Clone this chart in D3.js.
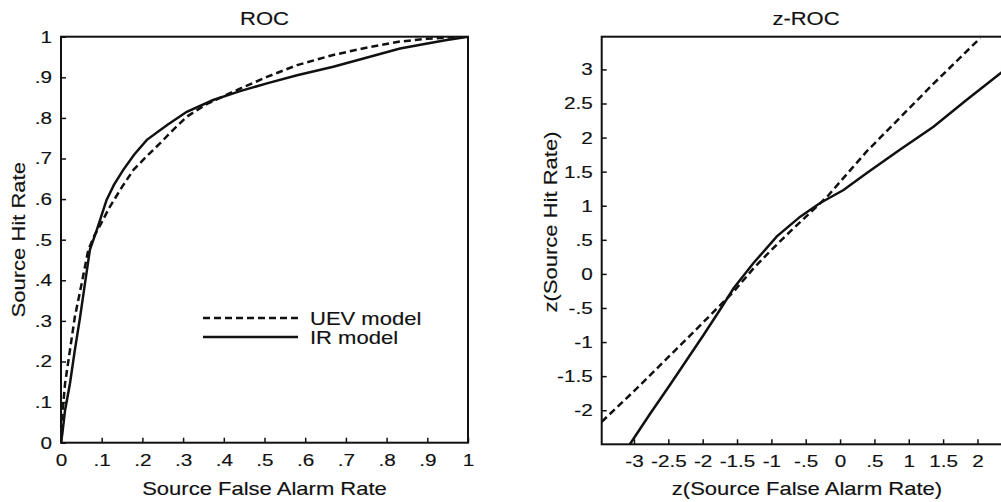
<!DOCTYPE html>
<html>
<head>
<meta charset="utf-8">
<script src="https://cdn.jsdelivr.net/npm/d3@7"></script>
<style>
  body { margin: 0; background: #fff; }
  svg text { font-family: "Liberation Sans", Arial, sans-serif; fill: #111; stroke: #111; stroke-width: 0.15px; }
</style>
</head>
<body>
<svg id="chart" width="1001" height="502"></svg>
<script>
// ROC panel, UEV model (dashed)
const uevFA  = [0, 0.002, 0.005, 0.01, 0.022, 0.034, 0.051, 0.067, 0.082, 0.096, 0.12, 0.15, 0.178, 0.21, 0.243, 0.275, 0.309, 0.36, 0.424, 0.506, 0.58, 0.669, 0.75, 0.833, 0.9, 0.95, 1]
const uevHit = [0, 0.05, 0.09, 0.146, 0.228, 0.31, 0.393, 0.475, 0.51, 0.535, 0.581, 0.63, 0.672, 0.705, 0.737, 0.77, 0.803, 0.835, 0.865, 0.901, 0.93, 0.955, 0.973, 0.988, 0.995, 0.998, 1]
// ROC panel, IR model (solid)
const irFA  = [0, 0.003, 0.01, 0.022, 0.034, 0.047, 0.059, 0.071, 0.088, 0.112, 0.13, 0.153, 0.18, 0.211, 0.26, 0.309, 0.374, 0.44, 0.506, 0.58, 0.669, 0.75, 0.833, 0.9, 0.948, 0.98, 1]
const irHit = [0, 0.02, 0.08, 0.146, 0.228, 0.31, 0.393, 0.475, 0.524, 0.598, 0.635, 0.672, 0.71, 0.746, 0.782, 0.815, 0.844, 0.866, 0.885, 0.905, 0.926, 0.948, 0.971, 0.983, 0.992, 0.997, 1]

// z-ROC panel
const uevZFA  = [-3.47, -3.0, -2.52, -2.04, -1.55, -1.26, -1.07, -0.78, -0.19, 0.39, 0.87, 1.36, 2.04]
const uevZHit = [-2.17, -1.72, -1.24, -0.76, -0.26, 0.08, 0.28, 0.57, 1.13, 1.8, 2.29, 2.79, 3.46]
const irZFA  = [-3.06, -2.77, -2.47, -2.23, -1.99, -1.75, -1.55, -1.26, -0.92, -0.58, -0.29, 0.05, 0.39, 0.87, 1.36, 1.84, 2.33, 2.5]
const irZHit = [-2.5, -2.06, -1.62, -1.26, -0.9, -0.53, -0.21, 0.16, 0.55, 0.84, 1.04, 1.23, 1.48, 1.82, 2.16, 2.55, 2.94, 3.06]

const rocTicks = [0, .1, .2, .3, .4, .5, .6, .7, .8, .9, 1]
const zXTicks = [-3, -2.5, -2, -1.5, -1, -.5, 0, .5, 1, 1.5, 2]
const zYTicks = [-2, -1.5, -1, -.5, 0, .5, 1, 1.5, 2, 2.5, 3]

const legendNames = ['UEV model', 'IR model']

const svg = d3.select('#chart')
const SX = 1.19   // glyphs in the figure are wide
const SXT = 1.22  // same for tick labels

// leading zero dropped, like ".5" and "-.5"
const fmt = v => String(+v.toFixed(2)).replace(/^(-?)0\./, '$1.')

function label(x, y, txt, size, rot) {
  svg.append('text')
    .attr('transform', `translate(${x},${y}) rotate(${rot || 0}) scale(${SX},1)`)
    .attr('text-anchor', 'middle')
    .style('font-size', size + 'px')
    .text(txt)
}

function panel(id, x, y, xTicks, yTicks) {
  const g = svg.append('g')
  const [x0, x1] = x.range()
  const [yb, yt] = y.range()

  g.append('clipPath').attr('id', id)
    .append('rect').attr('x', x0).attr('y', yt).attr('width', x1 - x0).attr('height', yb - yt)

  const xa = g.append('g')
    .attr('transform', `translate(0,${yb})`)
    .call(d3.axisBottom(x).tickValues(xTicks).tickFormat(fmt).tickSizeInner(-5).tickSizeOuter(0).tickPadding(11))
  const ya = g.append('g')
    .attr('transform', `translate(${x0},0)`)
    .call(d3.axisLeft(y).tickValues(yTicks).tickFormat(fmt).tickSizeInner(-5).tickSizeOuter(0))

  for (const a of [xa, ya]) {
    a.select('.domain').remove()
    a.selectAll('line').attr('stroke', '#111').attr('stroke-width', 1.5)
    a.selectAll('text').style('font-size', '17px').attr('font-family', null).attr('fill', null)
  }
  xa.selectAll('text').attr('transform', `scale(${SXT},1)`)
  ya.selectAll('text').attr('x', -9 / SXT).attr('transform', `scale(${SXT},1)`)

  g.append('rect')
    .attr('x', x0).attr('y', yt).attr('width', x1 - x0).attr('height', yb - yt)
    .attr('fill', 'none').attr('stroke', '#111').attr('stroke-width', 2)

  return g
}

function curve(g, clip, x, y, xs, ys, dashed) {
  const line = d3.line().x(i => x(xs[i])).y(i => y(ys[i]))
  g.append('path')
    .attr('clip-path', `url(#${clip})`)
    .attr('d', line(d3.range(xs.length)))
    .attr('fill', 'none').attr('stroke', '#111').attr('stroke-width', 2.5)
    .attr('stroke-dasharray', dashed ? '7,4' : null)
}

// ---- left: ROC
const x1 = d3.scaleLinear().domain([0, 1]).range([61, 468])
const y1 = d3.scaleLinear().domain([0, 1]).range([442.7, 36.7])
const p1 = panel('clipL', x1, y1, rocTicks, rocTicks)
curve(p1, 'clipL', x1, y1, uevFA, uevHit, true)
curve(p1, 'clipL', x1, y1, irFA, irHit, false)

label(264.5, 25, 'ROC', 18.5)
label(264.5, 495, 'Source False Alarm Rate', 18.5)
label(25, 239.7, 'Source Hit Rate', 18.5, -90)

// legend
legendNames.forEach((n, i) => {
  const ly = 318 + i * 19
  p1.append('line').attr('x1', 203).attr('x2', 298).attr('y1', ly).attr('y2', ly)
    .attr('stroke', '#111').attr('stroke-width', 2.5)
    .attr('stroke-dasharray', i === 0 ? '7,4' : null)
  svg.append('text')
    .attr('transform', `translate(310,${ly + 6.5}) scale(${SX},1)`)
    .style('font-size', '18.5px')
    .text(n)
})

// ---- right: z-ROC (runs past the right edge of the picture)
const x2 = d3.scaleLinear().domain([-3.47, 2.5]).range([601.7, 1011.8])
const y2 = d3.scaleLinear().domain([-2.5, 3.48]).range([444.3, 36.7])
const p2 = panel('clipR', x2, y2, zXTicks, zYTicks)
curve(p2, 'clipR', x2, y2, uevZFA, uevZHit, true)
curve(p2, 'clipR', x2, y2, irZFA, irZHit, false)

label(806, 25, 'z-ROC', 18.5)
label(807, 495, 'z(Source False Alarm Rate)', 18.5)
label(557, 222, 'z(Source Hit Rate)', 18.5, -90)
</script>
</body>
</html>
